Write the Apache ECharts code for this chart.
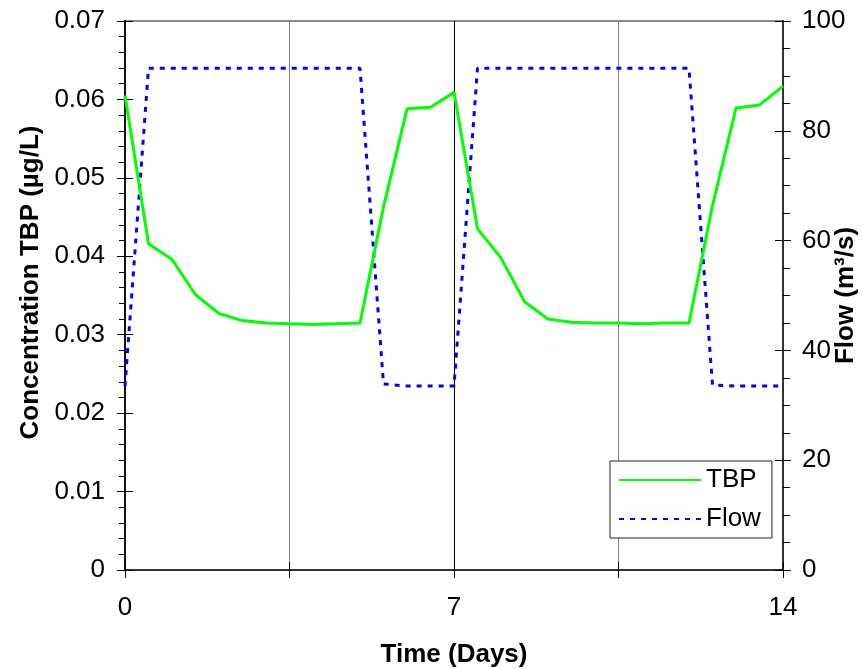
<!DOCTYPE html>
<html>
<head>
<meta charset="utf-8">
<script src="https://cdn.jsdelivr.net/npm/echarts@6/dist/echarts.min.js"></script>
<style>html,body{margin:0;padding:0;background:#fff;}#chart{width:862px;height:669px;}</style>
</head>
<body>
<div id="chart"></div>
<script>
// Time axis (days)
const days = [0,0.5,1,1.5,2,2.5,3,3.5,4,4.5,5,5.5,6,6.5,7,7.5,8,8.5,9,9.5,10,10.5,11,11.5,12,12.5,13,13.5,14];
// TBP concentration (µg/L)
const tbp = [0.0605,0.0416,0.0396,0.0351,0.0327,0.0318,0.0315,0.0314,0.0313,0.0314,0.0315,0.0463,0.0588,0.0590,0.0609,
             0.0435,0.0398,0.0342,0.0320,0.0316,0.0315,0.0315,0.0314,0.0315,0.0315,0.0465,0.0589,0.0593,0.0617];
// Flow (m3/s)
const flow = [33.5,91.4,91.4,91.4,91.4,91.4,91.4,91.4,91.4,91.4,91.4,33.9,33.5,33.5,33.5,
              91.4,91.4,91.4,91.4,91.4,91.4,91.4,91.4,91.4,91.4,33.7,33.5,33.5,33.5];
const xTickLabels = {0:'0', 7:'7', 14:'14'};
const seriesNames = ['TBP','Flow'];
const xTitle = 'Time (Days)';
const yLeftTitle = 'Concentration TBP (µg/L)';
const yRightTitle = 'Flow (m³/s)';

const FONT = "'Liberation Sans', Arial, sans-serif";
const chart = echarts.init(document.getElementById('chart'), null, {renderer:'canvas'});

const tbpData = days.map((d,i)=>[d,tbp[i]]);
const flowData = days.map((d,i)=>[d,flow[i]]);

const labelStyle = {fontFamily:FONT, fontSize:26, color:'#000'};
const nameStyle = {fontFamily:FONT, fontSize:26, fontWeight:'bold', color:'#000'};

chart.setOption({
  animation:false,
  backgroundColor:'#fff',
  grid:{left:125, right:79, top:21, bottom:99, show:true, borderColor:'#888', borderWidth:2,
        backgroundColor:'transparent', containLabel:false, outerBoundsMode:'none'},
  legend:{
    orient:'vertical', left:610, top:461, padding:[6,11,6,8], itemGap:13,
    itemWidth:82, itemHeight:14,
    backgroundColor:'#fff', borderColor:'#222', borderWidth:1, borderRadius:0,
    itemStyle:{opacity:0},
    textStyle:{fontFamily:FONT, fontSize:26, color:'#000'},
    data:seriesNames
  },
  xAxis:[{
    type:'value', min:0, max:14, interval:3.5, position:'bottom',
    name:xTitle, nameLocation:'middle', nameGap:72,
    nameTextStyle:nameStyle,
    axisLine:{show:true, onZero:false, lineStyle:{color:'#333', width:2}},
    axisTick:{show:true, length:8, lineStyle:{color:'#000', width:1}},
    axisLabel:Object.assign({}, labelStyle, {margin:25, formatter:v=> (xTickLabels[v] !== undefined ? xTickLabels[v] : '')}),
    splitLine:{show:true, lineStyle:{color:['#000','#808080'], width:1}}
  },{
    type:'value', min:0, max:14, interval:3.5, position:'bottom',
    axisLine:{show:false, onZero:false}, axisLabel:{show:false}, splitLine:{show:false},
    axisTick:{show:true, inside:true, length:8, lineStyle:{color:'#000', width:1}}
  }],
  yAxis:[{
    type:'value', min:0, max:0.07, interval:0.01, position:'left',
    name:yLeftTitle, nameLocation:'middle', nameGap:72, nameRotate:90,
    nameTextStyle:Object.assign({}, nameStyle, {padding:[0,0,0,26]}),
    axisLine:{show:true, onZero:false, lineStyle:{color:'#111', width:2}},
    axisTick:{show:true, length:8, lineStyle:{color:'#000', width:1}},
    minorTick:{show:true, splitNumber:5, length:6, lineStyle:{color:'#000', width:1}},
    axisLabel:Object.assign({}, labelStyle, {margin:20, formatter:v=> v===0 ? '0' : v.toFixed(2)}),
    splitLine:{show:false}
  },{
    type:'value', min:0, max:100, interval:20, position:'right',
    name:yRightTitle, nameLocation:'middle', nameGap:50, nameRotate:90, nameMoveOverlap:false,
    nameTextStyle:nameStyle,
    axisLine:{show:true, onZero:false, lineStyle:{color:'#333', width:2}},
    axisTick:{show:true, length:8, lineStyle:{color:'#000', width:1}},
    minorTick:{show:true, splitNumber:4, length:7, lineStyle:{color:'#000', width:1}},
    axisLabel:Object.assign({}, labelStyle, {margin:19}),
    splitLine:{show:false}
  },{
    type:'value', min:0, max:0.07, interval:0.01, position:'left',
    axisLine:{show:false, onZero:false}, axisLabel:{show:false}, splitLine:{show:false},
    axisTick:{show:true, inside:true, length:8, lineStyle:{color:'#000', width:1}}
  },{
    type:'value', min:0, max:100, interval:20, position:'right',
    axisLine:{show:false, onZero:false}, axisLabel:{show:false}, splitLine:{show:false},
    axisTick:{show:true, inside:true, length:8, lineStyle:{color:'#000', width:1}}
  }],
  series:[{
    name:seriesNames[0], type:'line', xAxisIndex:0, yAxisIndex:0, data:tbpData,
    symbol:'none', color:'#00ff00', lineStyle:{color:'#00ff00', width:3}, z:3
  },{
    name:seriesNames[1], type:'line', xAxisIndex:0, yAxisIndex:1, data:flowData,
    symbol:'none', color:'#0000ff', lineStyle:{color:'#0000ff', width:3, type:[5,6]}, z:2
  }]
});
</script>
</body>
</html>
